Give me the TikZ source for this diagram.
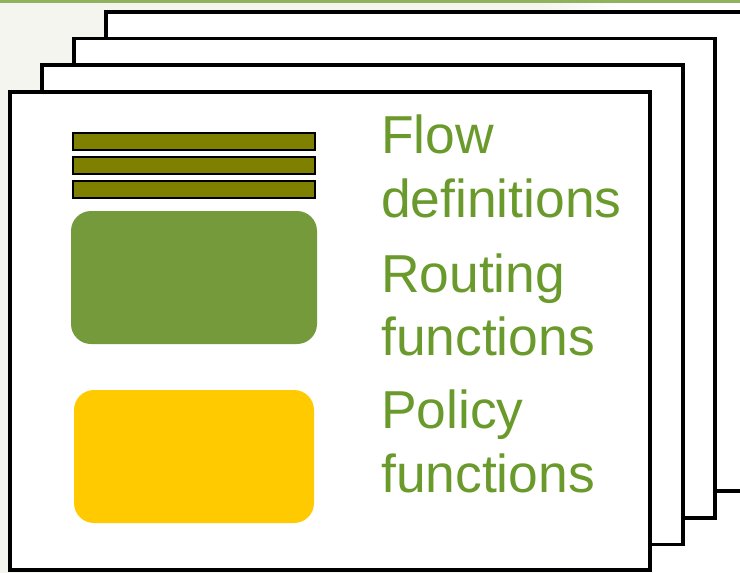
\documentclass[tikz,border=0pt]{standalone}
\usepackage{fontspec}
\setmainfont{Liberation Sans}
\definecolor{txtgreen}{HTML}{6A9A2C}
\definecolor{boxgreen}{HTML}{759A3C}
\definecolor{barolive}{HTML}{808000}
\definecolor{boxyellow}{HTML}{FFCB00}
\definecolor{bggray}{HTML}{F4F5EE}
\definecolor{topline}{HTML}{8FB35C}
\begin{document}
\begin{tikzpicture}[x=1pt,y=-1pt,
  sheet/.style={draw=black,fill=white,line width=3.8pt},
  bar/.style={draw=black,fill=barolive,line width=2.2pt},
  blob/.style={rounded corners=20pt},
  label/.style={text=txtgreen,font=\fontsize{53.4}{64}\selectfont,anchor=base west,inner sep=0pt,align=left}]
\useasboundingbox (0,0) rectangle (740,573);
\clip (0,0) rectangle (740,573);
\fill[bggray] (0,0) rectangle (740,573);
\shade[left color=bggray,right color=white] (540,0) rectangle (620,573);
\fill[white] (620,0) rectangle (740,573);
\fill[topline] (0,0) rectangle (740,2.5);
% stacked sheets, back to front
\draw[sheet] (106,12) rectangle (747,491) coordinate (s4);
\draw[sheet] (74,38.5) rectangle (715,518) coordinate (s3);
\draw[sheet] (42,65) rectangle (683,544.5) coordinate (s2);
\draw[sheet] (10,92) rectangle (650,570) coordinate (s1);
% flow definition bars
\draw[bar] (73,133) rectangle (315,150) coordinate (b1);
\draw[bar] (73,157) rectangle (315,174) coordinate (b2);
\draw[bar] (73,181) rectangle (315,198) coordinate (b3);
% routing and policy blocks
\fill[boxgreen,blob] (71,211) rectangle (317,344) coordinate (rt);
\fill[boxyellow,blob] (74,390) rectangle (314,523) coordinate (pl);
% labels
\node[label] (flow) at (381,153) {Flow};
\node[label] (fdef) at (381,217) {definitions};
\node[label] (rout) at (381,292) {Routing};
\node[label] (rfun) at (381,355) {functions};
\node[label] (poli) at (381,428) {Policy};
\node[label] (pfun) at (381,492) {functions};
\end{tikzpicture}
\end{document}
